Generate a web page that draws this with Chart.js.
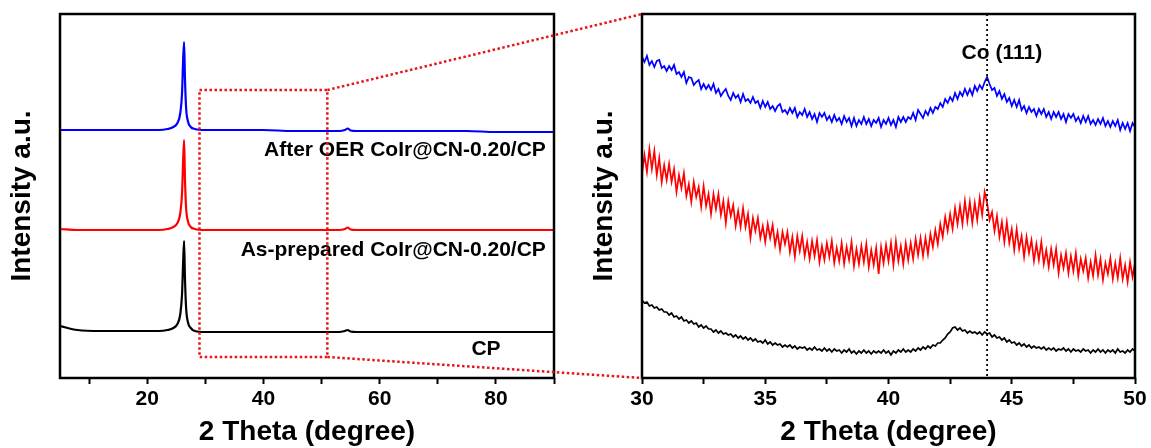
<!DOCTYPE html>
<html>
<head>
<meta charset="utf-8">
<script src="https://cdn.jsdelivr.net/npm/chart.js@4/dist/chart.umd.min.js"></script>
<style>
  html, body { margin: 0; padding: 0; background: #ffffff; }
  #wrap { position: relative; width: 1151px; height: 448px; overflow: hidden; background: #ffffff; }
  #wrap canvas { position: absolute; top: 0; }
  #cL { left: 0; width: 580px; height: 448px; }
  #cR { left: 580px; width: 571px; height: 448px; }
  #ov { left: 0; width: 1151px; height: 448px; pointer-events: none; }
</style>
</head>
<body>
<div id="wrap">
  <canvas id="cL" width="580" height="448"></canvas>
  <canvas id="cR" width="571" height="448"></canvas>
  <canvas id="ov" width="1151" height="448"></canvas>
</div>
<script>
// ---------------- DATA ----------------
// Full XRD scan (left panel), 2θ in degrees, intensity in arbitrary (offset) units
const FULL_THETA = [5, 8, 12, 16, 20, 22, 23.5, 24.5, 25.2, 25.7, 26.0, 26.2, 26.35, 26.5, 26.7, 27.0, 27.5, 28.2, 30, 35, 40, 45, 50, 53, 54, 54.5, 55, 56, 60, 65, 70, 75, 80, 85, 90];
const FULL_CP          = [52, 48, 47, 47, 47, 47, 48, 50, 54, 64, 84, 118, 137, 100, 70, 56, 50, 47, 46, 46, 46, 46, 46, 46, 47, 48, 46.5, 46, 46, 46, 46, 46, 46, 46, 46];
const FULL_AS_PREPARED = [149, 148, 148, 148, 148, 148, 149, 151, 155, 165, 185, 220, 238, 200, 170, 157, 151, 149, 148, 148, 148, 148, 148, 148, 149, 150.5, 148.5, 148, 148, 148, 148, 148, 148, 148, 148];
const FULL_AFTER_OER   = [248, 248, 248, 248, 248, 248, 249, 251, 255, 265, 285, 320, 336, 300, 270, 257, 251, 249, 248, 248, 248, 247, 247, 247, 248, 249.5, 247.5, 247, 247, 247, 247, 247, 246, 246, 246];

// Zoomed scan 30–50° (right panel)
const ZOOM_THETA = [
  30.0,30.1,30.2,30.3,30.4,30.5,30.6,30.7,30.8,30.9,
  31.0,31.1,31.2,31.3,31.4,31.5,31.6,31.7,31.8,31.9,
  32.0,32.1,32.2,32.3,32.4,32.5,32.6,32.7,32.8,32.9,
  33.0,33.1,33.2,33.3,33.4,33.5,33.6,33.7,33.8,33.9,
  34.0,34.1,34.2,34.3,34.4,34.5,34.6,34.7,34.8,34.9,
  35.0,35.1,35.2,35.3,35.4,35.5,35.6,35.7,35.8,35.9,
  36.0,36.1,36.2,36.3,36.4,36.5,36.6,36.7,36.8,36.9,
  37.0,37.1,37.2,37.3,37.4,37.5,37.6,37.7,37.8,37.9,
  38.0,38.1,38.2,38.3,38.4,38.5,38.6,38.7,38.8,38.9,
  39.0,39.1,39.2,39.3,39.4,39.5,39.6,39.7,39.8,39.9,
  40.0,40.1,40.2,40.3,40.4,40.5,40.6,40.7,40.8,40.9,
  41.0,41.1,41.2,41.3,41.4,41.5,41.6,41.7,41.8,41.9,
  42.0,42.1,42.2,42.3,42.4,42.5,42.6,42.7,42.8,42.9,
  43.0,43.1,43.2,43.3,43.4,43.5,43.6,43.7,43.8,43.9,
  44.0,44.1,44.2,44.3,44.4,44.5,44.6,44.7,44.8,44.9,
  45.0,45.1,45.2,45.3,45.4,45.5,45.6,45.7,45.8,45.9,
  46.0,46.1,46.2,46.3,46.4,46.5,46.6,46.7,46.8,46.9,
  47.0,47.1,47.2,47.3,47.4,47.5,47.6,47.7,47.8,47.9,
  48.0,48.1,48.2,48.3,48.4,48.5,48.6,48.7,48.8,48.9,
  49.0,49.1,49.2,49.3,49.4,49.5,49.6,49.7,49.8,49.9,
  50.0];
const ZOOM_AFTER_OER = [
  321,316,322,313,317,311,317,318,310,312,
  307,312,308,313,304,306,301,306,295,301,
  300,293,296,298,289,294,289,293,288,294,
  285,289,282,286,289,282,278,285,280,283,
  276,284,277,279,275,281,275,277,270,277,
  271,276,269,272,267,272,274,266,268,264,
  270,265,270,261,266,263,269,261,266,259,
  264,256,265,261,265,258,262,256,263,257,
  260,254,262,256,260,252,260,252,258,254,
  261,254,259,252,258,255,260,251,258,254,
  260,253,258,251,261,256,261,256,261,259,
  265,258,268,264,260,267,263,270,265,271,
  269,275,271,279,275,281,277,285,279,286,
  282,289,283,289,283,292,287,293,289,296,
  301,294,288,290,282,287,279,284,276,280,
  272,278,271,278,268,272,265,271,266,269,
  262,269,264,269,261,266,259,266,261,266,
  259,264,256,264,260,264,257,261,255,262,
  256,262,254,258,253,259,254,260,252,257,
  251,257,252,258,248,255,249,255,247,255,
  251];
const ZOOM_AS_PREPARED = [
  204,223,206,229,209,227,203,220,196,213,
  198,214,196,209,186,203,190,205,182,194,
  176,196,181,191,171,192,172,184,164,184,
  169,184,163,177,155,177,162,173,152,167,
  151,170,151,164,140,160,147,160,140,152,
  136,154,140,153,133,146,128,146,134,146,
  126,141,121,142,127,142,122,136,119,137,
  122,138,116,132,118,135,121,137,115,130,
  117,135,114,131,118,136,112,129,114,132,
  116,134,111,128,113,130,104,131,115,133,
  117,135,113,137,117,132,114,135,118,135,
  119,139,123,140,122,140,124,144,131,148,
  134,154,141,161,147,164,149,170,154,172,
  154,177,157,176,155,175,158,180,163,186,
  175,158,166,147,162,141,156,136,156,135,
  149,128,149,129,142,121,141,125,138,117,
  134,118,136,114,128,111,129,113,129,105,
  123,110,125,105,122,107,125,102,119,107,
  120,100,116,102,123,103,119,98,115,104,
  120,99,115,100,120,99,113,96,116,101,
  115];
const ZOOM_CP = [
  78,75,76,72,73,70,71,68,69,66,
  66,63,65,61,62,59,61,57,58,55,
  57,54,55,51,53,50,52,49,49,46,
  48,45,47,44,45,43,44,41,43,40,
  42,39,41,38,40,37,39,36,37,35,
  38,34,36,33,35,33,34,31,33,31,
  33,30,32,29,31,30,31,28,30,28,
  31,28,29,27,30,27,29,26,29,27,
  28,25,28,26,29,25,27,24,27,25,
  28,25,27,24,27,25,27,25,28,25,
  27,23,27,25,28,26,29,26,28,26,
  29,27,30,28,31,29,32,30,33,32,
  35,35,38,40,44,46,50,51,48,50,
  47,48,45,47,45,46,44,46,43,46,
  44,45,41,43,40,41,38,40,36,38,
  35,36,33,35,32,34,31,33,30,32,
  30,31,29,31,28,30,28,30,27,29,
  28,30,27,29,26,29,27,28,26,29,
  27,28,25,28,26,29,26,28,25,28,
  26,28,25,29,26,27,25,28,26,29,
  27];

const SERIES_NAMES  = ['CP', 'As-prepared CoIr@CN-0.20/CP', 'After OER CoIr@CN-0.20/CP'];
const SERIES_COLORS = ['#000000', '#ff0000', '#0000ff'];

const FULL_TICKS       = [10, 20, 30, 40, 50, 60, 70, 80, 90];
const FULL_TICK_LABELS = ['', '20', '', '40', '', '60', '', '80', ''];
const ZOOM_TICKS       = [30, 32.5, 35, 37.5, 40, 42.5, 45, 47.5, 50];
const ZOOM_TICK_LABELS = ['30', '', '35', '', '40', '', '45', '', '50'];

const CO111_THETA = 44;
const CO111_LABEL = 'Co (111)';
const ZOOM_WINDOW_THETA = [29, 51];
const ZOOM_WINDOW_INTENSITY = [21, 288];

// ---------------- STYLE ----------------
const FONT = "'Liberation Sans', Arial, Helvetica, sans-serif";
const Y_MAX = 364;

function xScale(min, max, ticks, labels) {
  return {
    type: 'linear', min: min, max: max,
    afterBuildTicks: s => { s.ticks = ticks.map(v => ({ value: v })); },
    afterFit: s => { s.height = 70; },
    grid: { display: true, drawOnChartArea: false, drawTicks: true, tickLength: 6, tickWidth: 2, tickColor: '#000', color: '#000' },
    border: { display: false },
    ticks: {
      autoSkip: false, maxRotation: 0, minRotation: 0, padding: 3, color: '#000',
      font: { family: FONT, size: 21, weight: 'bold' },
      callback: v => { const i = ticks.indexOf(v); return i >= 0 ? labels[i] : ''; }
    },
    title: { display: true, text: '2 Theta (degree)', color: '#000',
      font: { family: FONT, size: 28, weight: 'bold', lineHeight: 1 }, padding: { top: 0, bottom: 2 } }
  };
}
function yScale(width, titlePad) {
  return {
    type: 'linear', min: 0, max: Y_MAX,
    afterFit: s => { s.width = width; },
    grid: { display: false }, border: { display: false },
    ticks: { display: false },
    title: { display: true, text: 'Intensity a.u.', color: '#000',
      font: { family: FONT, size: 28, weight: 'bold', lineHeight: 1 }, padding: { top: titlePad, bottom: 0 } }
  };
}

const framePlugin = {
  id: 'frame',
  afterDatasetsDraw(chart) {
    const { ctx, chartArea: a } = chart;
    ctx.save();
    ctx.strokeStyle = '#000'; ctx.lineWidth = 2.5;
    ctx.strokeRect(a.left, a.top, a.right - a.left, a.bottom - a.top);
    ctx.restore();
  }
};

// label annotations in data coordinates (theta, intensity, alignment)
const FULL_LABEL_ANCHORS = [[78.3, 29, 'center'], [88.6, 128, 'right'], [88.6, 228, 'right']];
const fullLabels = {
  id: 'fullLabels',
  afterDatasetsDraw(chart) {
    const { ctx, scales: { x, y } } = chart;
    ctx.save();
    ctx.fillStyle = '#000';
    ctx.font = 'bold 21px ' + FONT;
    ctx.textBaseline = 'middle';
    SERIES_NAMES.forEach((name, i) => {
      const [t, v, al] = FULL_LABEL_ANCHORS[i];
      ctx.textAlign = al;
      ctx.fillText(name, x.getPixelForValue(t), y.getPixelForValue(v));
    });
    ctx.restore();
  }
};

const CO111_LABEL_ANCHOR = [44.6, 325];
const coLine = {
  id: 'coLine',
  afterDatasetsDraw(chart) {
    const { ctx, chartArea: a, scales: { x, y } } = chart;
    const px = x.getPixelForValue(CO111_THETA);
    ctx.save();
    ctx.strokeStyle = '#000'; ctx.lineWidth = 1.8; ctx.setLineDash([2, 3]);
    ctx.beginPath(); ctx.moveTo(px, a.top); ctx.lineTo(px, a.bottom); ctx.stroke();
    ctx.setLineDash([]);
    ctx.fillStyle = '#000'; ctx.font = 'bold 21px ' + FONT;
    ctx.textAlign = 'center'; ctx.textBaseline = 'middle';
    ctx.fillText(CO111_LABEL, x.getPixelForValue(CO111_LABEL_ANCHOR[0]), y.getPixelForValue(CO111_LABEL_ANCHOR[1]));
    ctx.restore();
  }
};

function makeDatasets(theta, seriesList, width, smooth) {
  return seriesList.map((vals, i) => ({
    label: SERIES_NAMES[i],
    data: theta.map((t, j) => ({ x: t, y: vals[j] })),
    borderColor: SERIES_COLORS[i],
    borderWidth: width,
    pointRadius: 0,
    fill: false,
    tension: 0,
    cubicInterpolationMode: smooth ? 'monotone' : 'default'
  }));
}

const common = {
  responsive: false, animation: false, devicePixelRatio: 1,
  plugins: { legend: { display: false }, tooltip: { enabled: false }, title: { display: false } },
  events: []
};

const chartL = new Chart(document.getElementById('cL'), {
  type: 'line',
  data: { datasets: makeDatasets(FULL_THETA, [FULL_CP, FULL_AS_PREPARED, FULL_AFTER_OER], 2.2, true) },
  options: Object.assign({}, common, {
    layout: { padding: { top: 14, right: 26, left: 0, bottom: 0 } },
    scales: { x: xScale(5, 90, FULL_TICKS, FULL_TICK_LABELS), y: yScale(60, 8.5) }
  }),
  plugins: [framePlugin, fullLabels]
});

const chartR = new Chart(document.getElementById('cR'), {
  type: 'line',
  data: { datasets: makeDatasets(ZOOM_THETA, [ZOOM_CP, ZOOM_AS_PREPARED, ZOOM_AFTER_OER], 1.7, false) },
  options: Object.assign({}, common, {
    layout: { padding: { top: 14, right: 16, left: 0, bottom: 0 } },
    scales: { x: xScale(30, 50, ZOOM_TICKS, ZOOM_TICK_LABELS), y: yScale(62, 10.5) }
  }),
  plugins: [framePlugin, coLine]
});

// ---------------- zoom-window overlay ----------------
(function drawOverlay() {
  const ov = document.getElementById('ov');
  const ctx = ov.getContext('2d');
  const xs = chartL.scales.x, ys = chartL.scales.y;
  const x0 = xs.getPixelForValue(ZOOM_WINDOW_THETA[0]);
  const x1 = xs.getPixelForValue(ZOOM_WINDOW_THETA[1]);
  const yTop = ys.getPixelForValue(ZOOM_WINDOW_INTENSITY[1]);
  const yBot = ys.getPixelForValue(ZOOM_WINDOW_INTENSITY[0]);
  const offR = document.getElementById('cR').offsetLeft;
  const a = chartR.chartArea;
  ctx.save();
  ctx.strokeStyle = '#e8141c'; ctx.lineWidth = 2.5; ctx.setLineDash([2.5, 2.5]);
  ctx.strokeRect(x0, yTop, x1 - x0, yBot - yTop);
  ctx.beginPath();
  ctx.moveTo(x1, yTop); ctx.lineTo(offR + a.left, a.top);
  ctx.moveTo(x1, yBot); ctx.lineTo(offR + a.left, a.bottom);
  ctx.stroke();
  ctx.restore();
})();
</script>
</body>
</html>
